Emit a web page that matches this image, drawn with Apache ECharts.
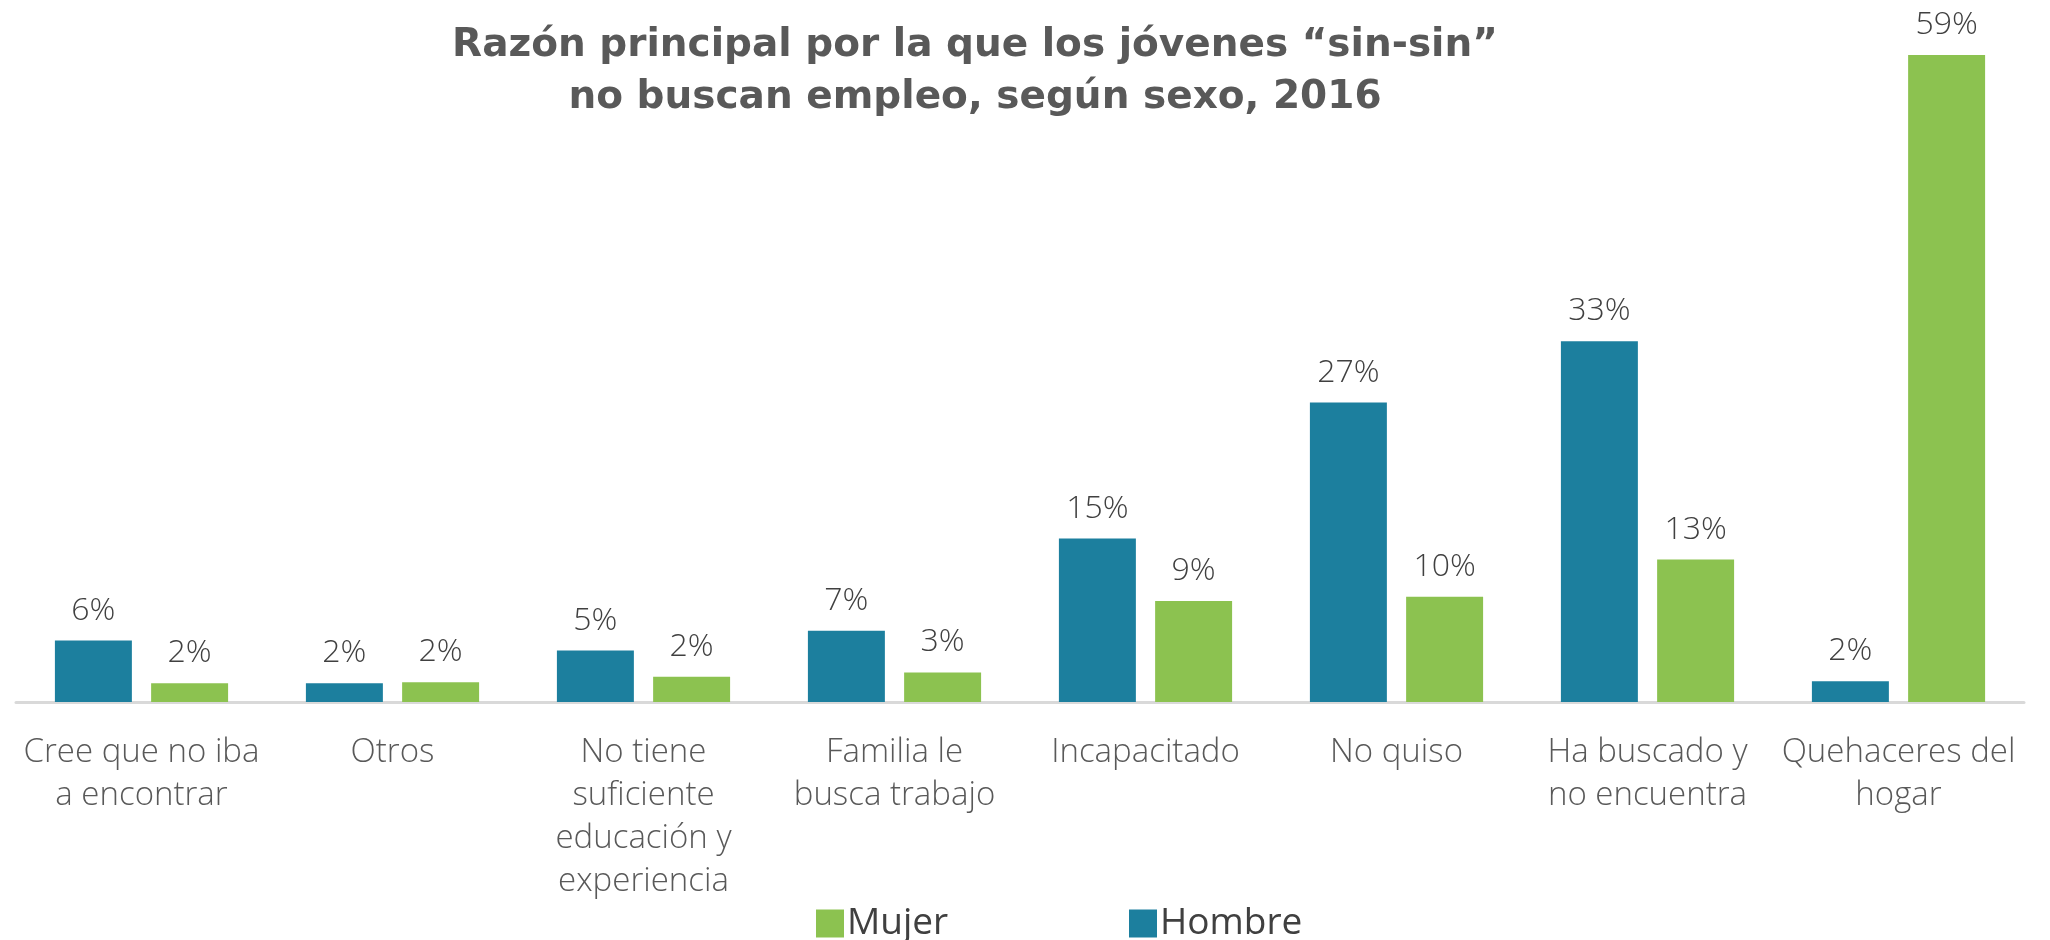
<!DOCTYPE html>
<html>
<head>
<meta charset="UTF-8">
<title>Razón principal por la que los jóvenes sin-sin no buscan empleo</title>
<script src="https://cdn.jsdelivr.net/npm/echarts@6/dist/echarts.min.js"></script>
<style>
  html, body { margin: 0; padding: 0; background: #fff; }
  #chart { width: 2050px; height: 940px; }
</style>
</head>
<body>
<div id="chart"></div>
<script>
// categorías (con saltos de línea como en el original)
var categorias = [
  'Cree que no iba\na encontrar',
  'Otros',
  'No tiene\nsuficiente\neducación y\nexperiencia',
  'Familia le\nbusca trabajo',
  'Incapacitado',
  'No quiso',
  'Ha buscado y\nno encuentra',
  'Quehaceres del\nhogar'
];
var hombre = [5.6, 1.7, 4.7, 6.5, 14.9, 27.3, 32.9, 1.9];
var mujer = [1.7, 1.8, 2.3, 2.7, 9.2, 9.6, 13.0, 59.0];

var fuente = '"Open Sans", "Noto Sans", sans-serif';
var azul = '#1c7f9e';
var verde = '#8cc250';

var myChart = echarts.init(document.getElementById('chart'));

var etiqueta = {
  show: true,
  position: 'top',
  distance: 14,
  fontFamily: fuente,
  fontWeight: 300,
  fontSize: 32,
  color: '#404040',
  formatter: function (p) { return Math.round(p.value) + '%'; }
};

var option = {
  animation: false,
  title: {
    text: 'Razón principal por la que los jóvenes “sin-sin”\nno buscan empleo, según sexo, 2016',
    left: 970,
    top: 15,
    textAlign: 'center',
    textStyle: {
      fontFamily: '"DejaVu Sans", sans-serif',
      fontWeight: 'bold',
      fontSize: 39,
      lineHeight: 52,
      color: '#595959'
    }
  },
  legend: [{
    data: ['Mujer'],
    left: 811,
    top: 900,
    itemWidth: 28,
    itemHeight: 28,
    icon: 'rect',
    textStyle: { fontFamily: fuente, fontSize: 37, color: '#404040', padding: [0, 0, 0, -2] }
  }, {
    data: ['Hombre'],
    left: 1124,
    top: 900,
    itemWidth: 28,
    itemHeight: 28,
    icon: 'rect',
    textStyle: { fontFamily: fuente, fontSize: 37, color: '#404040', padding: [0, 0, 0, -2] }
  }],
  grid: {
    left: 16,
    right: 26,
    top: 44,
    bottom: 238,
    containLabel: false
  },
  xAxis: {
    type: 'category',
    data: categorias,
    axisLine: { lineStyle: { color: '#d9d9d9', width: 3 } },
    axisTick: { show: false },
    axisLabel: {
      interval: 0,
      margin: 29,
      fontFamily: fuente,
      fontWeight: 300,
      fontSize: 33,
      lineHeight: 43,
      color: '#595959',
      align: 'center'
    }
  },
  yAxis: {
    type: 'value',
    min: 0,
    max: 60,
    show: false,
    splitLine: { show: false }
  },
  series: [{
    name: 'Hombre',
    type: 'bar',
    data: hombre,
    barGap: '25%',
    barCategoryGap: '31%',
    itemStyle: { color: azul },
    label: etiqueta
  }, {
    name: 'Mujer',
    type: 'bar',
    data: mujer,
    itemStyle: { color: verde },
    label: etiqueta
  }]
};

myChart.setOption(option);
</script>
</body>
</html>
